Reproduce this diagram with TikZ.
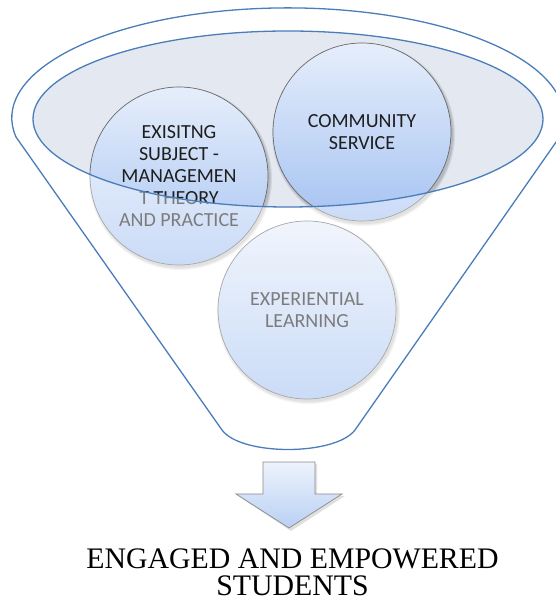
\documentclass[tikz,border=0pt]{standalone}
\usepackage{fontspec}
\setmainfont{Liberation Serif}
\newfontfamily\bubblefont{Carlito}
\definecolor{funnelblue}{HTML}{4A7DBA}
\definecolor{lensfill}{HTML}{E3E8F1}
\definecolor{bubbletop}{HTML}{E6EEFB}
\definecolor{bubblebot}{HTML}{A6C3F2}
\definecolor{bubbleedge}{HTML}{6A6A6A}
\definecolor{bubbleink}{HTML}{1E1E1E}
\definecolor{arrowtop}{HTML}{EEF3FC}
\definecolor{arrowbot}{HTML}{B9D0F4}
\definecolor{arrowedge}{HTML}{8A8A8A}
\begin{document}
\begin{tikzpicture}[x=1pt,y=1pt,
  funnelpath/.style={insert path={(16,465) arc[start angle=190,end angle=-10,x radius=276,y radius=110]
      -- (355,172) .. controls (335,146) and (241,146) .. (222,172) -- cycle}},
  lenspath/.style={insert path={(288,483) ellipse [x radius=255,y radius=88]}},
  funnelline/.style={draw=funnelblue, line width=1.3pt},
  bubble/.style={circle, minimum size=178pt, inner sep=0pt, draw=bubbleedge, line width=0.7pt,
      top color=bubbletop, bottom color=bubblebot, align=center,
      font=\bubblefont\fontsize{20}{22}\selectfont, text=bubbleink},
  softshadow/.style={fill=black, opacity=0.07},
  outcometext/.style={anchor=base, font=\fontsize{29.8}{30}\selectfont, inner sep=0pt},
]
\useasboundingbox (0,0) rectangle (556,602);
\clip (0,0) rectangle (556,602);

% centres of the three bubbles
\coordinate (lc) at (179,426);
\coordinate (rc) at (362,470);
\coordinate (bc) at (307,292);

% lens at the mouth of the funnel
\fill[lensfill] [lenspath];

% soft shadows under the bubbles
\foreach \c in {lc,rc,bc}{
  \foreach \r in {89.5,90.5,91.5}{
    \fill[softshadow] ([xshift=1.5pt,yshift=-2.5pt]\c) circle (\r);
  }
}

% the bubbles
\node[bubble] (subject) at (lc) {EXISITNG\\SUBJECT -\\MANAGEMEN\\T THEORY\\AND PRACTICE};
\node[bubble] (community) at (rc) {COMMUNITY\\SERVICE};
\node[bubble] (experiential) at (bc) {EXPERIENTIAL\\LEARNING};

% pale glass of the funnel body, leaving the lens clear
\fill[white, opacity=0.42, even odd rule] [funnelpath] [lenspath];

% outlines of funnel and lens
\draw[funnelline] [funnelpath];
\draw[funnelline] [lenspath];

% arrow out of the funnel
\fill[black, opacity=0.12] (265,138) -- (317,138) -- (317,106) -- (345,106) -- (291,71) -- (238,106) -- (265,106) -- cycle;
\path[draw=arrowedge, line width=0.7pt, top color=arrowtop, bottom color=arrowbot]
  (263,140) -- (315,140) -- (315,108) -- (342,108) -- (289,74) -- (236,108) -- (263,108) -- cycle;

% outcome
\node[outcometext] (outcome1) at (292.5,33) {ENGAGED AND EMPOWERED};
\node[outcometext] (outcome2) at (292.5,6) {STUDENTS};
\end{tikzpicture}
\end{document}
